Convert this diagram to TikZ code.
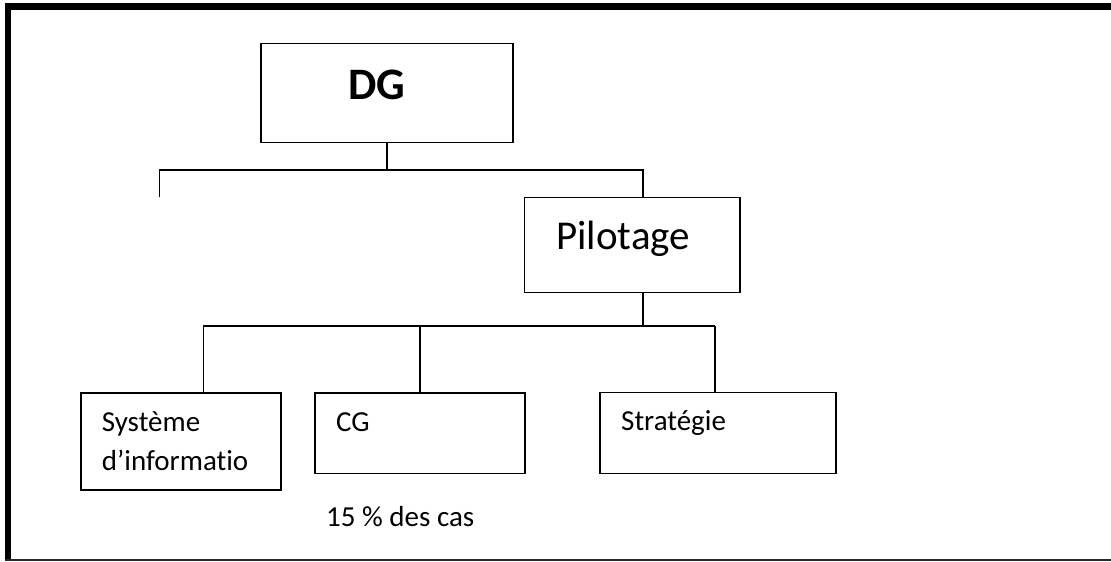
\documentclass[tikz,border=0pt]{standalone}
\usepackage{fontspec}
\setmainfont{Carlito}[Ligatures=NoCommon]
\begin{document}
\begin{tikzpicture}[x=1pt,y=-1pt,
  box/.style={draw=black,line width=1.6pt,rectangle,inner sep=0pt},
  link/.style={draw=black,line width=1.6pt},
  big/.style={font=\fontsize{45}{54}\selectfont\bfseries},
  mid/.style={font=\fontsize{41}{48}\selectfont},
  small/.style={font=\fontsize{29}{34}\selectfont},
  lbl/.style={inner sep=0pt,anchor=base west}]
\useasboundingbox (0,0) rectangle (1111,562);
% page frame: heavy left and top rules, thin bottom rule
\fill[black] (5,3) rectangle (11,561);
\fill[black] (5,3) rectangle (1111,10);
\fill[black!85] (5,558.5) rectangle (1111,560.8);

% boxes
\node[box,minimum width=252pt,minimum height=99pt] (dg) at (386.7,92.8) {};
\node[box,minimum width=215.7pt,minimum height=95pt] (pil) at (632.2,244.8) {};
\node[box,minimum width=200.3pt,minimum height=97.3pt] (sys) at (180.9,441.4) {};
\node[box,minimum width=210pt,minimum height=80.6pt] (cg) at (420,433) {};
\node[box,minimum width=236pt,minimum height=81pt] (strat) at (718,432.8) {};

% texts
\node[big,inner sep=0pt] (dgt) at (376.7,85) {DG};
\node[mid,lbl] (pilt) at (556,249) {Pilotage};
\node[small,lbl] (syst1) at (101.7,431.7) {Système};
\node[small,lbl] (syst2) at (101.7,470.7) {d’informatio};
\node[small,lbl] (cgt) at (336,431.7) {CG};
\node[small,lbl] (stratt) at (621,430) {Stratégie};
\node[small,lbl] (note) at (326,526.7) {15 \% des cas};

% junction points
\coordinate (j1) at (387,170);
\coordinate (jl) at (159.6,170);
\coordinate (jr) at (643,170);
\coordinate (stub) at (159.6,197);
\coordinate (j2) at (643,326);
\coordinate (ja) at (203.3,326);
\coordinate (jb) at (420,326);
\coordinate (jc) at (715,326);

% connectors
\draw[link] (dg.south -| j1) -- (j1);
\draw[link] (stub) -- (jl) -- (jr) -- (pil.north -| jr);
\draw[link] (pil.south -| j2) -- (j2);
\draw[link] (ja) -- (jc);
\draw[link] (ja) -- (sys.north -| ja);
\draw[link] (jb) -- (cg.north -| jb);
\draw[link] (jc) -- (strat.north -| jc);
\end{tikzpicture}
\end{document}
